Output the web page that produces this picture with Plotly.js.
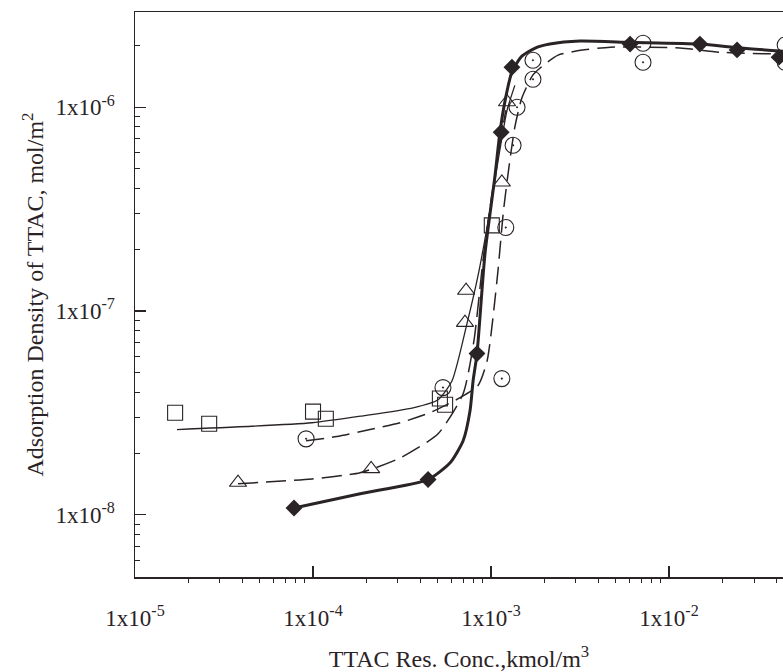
<!DOCTYPE html>
<html>
<head>
<meta charset="utf-8">
<script src="https://cdn.plot.ly/plotly-3.0.1.min.js"></script>
<style>html,body{margin:0;padding:0;background:#fff;overflow:hidden}#chart{width:783px;height:672px}</style>
</head>
<body>
<div id="chart"></div>
<script>
// ---- data ----
// open squares
var squareX = [1.68e-5, 2.61e-5, 1.0e-4, 1.18e-4, 5.16e-4, 5.52e-4, 1.01e-3];
var squareY = [3.17e-8, 2.80e-8, 3.21e-8, 2.96e-8, 3.72e-8, 3.47e-8, 2.63e-7];
// open circles (with dot)
var circleX = [9.14e-5, 5.37e-4, 1.15e-3, 1.21e-3, 1.33e-3, 1.40e-3, 1.72e-3, 1.72e-3, 7.14e-3, 7.14e-3, 4.49e-2, 4.49e-2];
var circleY = [2.36e-8, 4.21e-8, 4.66e-8, 2.57e-7, 6.50e-7, 1.00e-6, 1.37e-6, 1.70e-6, 2.06e-6, 1.66e-6, 2.02e-6, 1.66e-6];
// open triangles
var triX = [3.79e-5, 2.12e-4, 7.14e-4, 7.24e-4, 1.15e-3, 1.23e-3];
var triY = [1.44e-8, 1.68e-8, 8.77e-8, 1.26e-7, 4.28e-7, 1.06e-6];
// filled diamonds
var diaX = [7.82e-5, 4.43e-4, 8.34e-4, 1.14e-3, 1.31e-3, 6.04e-3, 1.49e-2, 2.41e-2, 4.15e-2];
var diaY = [1.08e-8, 1.49e-8, 6.18e-8, 7.53e-7, 1.57e-6, 2.04e-6, 2.04e-6, 1.91e-6, 1.76e-6];

// fitted curves
var thickX = [7.82e-5, 1.84e-4, 4.43e-4, 5.89e-4, 6.97e-4, 7.62e-4, 7.93e-4, 8.34e-4, 9.25e-4, 1.05e-3, 1.12e-3, 1.20e-3, 1.31e-3, 1.49e-3, 1.77e-3, 2.14e-3, 3.16e-3, 6.04e-3, 1.49e-2, 2.51e-2, 4.49e-2];
var thickY = [1.08e-8, 1.27e-8, 1.49e-8, 1.80e-8, 2.31e-8, 3.24e-8, 4.55e-8, 6.18e-8, 1.92e-7, 4.53e-7, 7.45e-7, 1.08e-6, 1.49e-6, 1.78e-6, 1.95e-6, 2.04e-6, 2.11e-6, 2.08e-6, 2.04e-6, 1.95e-6, 1.88e-6];

var thinX = [1.72e-5, 9.87e-5, 1.91e-4, 3.65e-4, 5.04e-4, 6.04e-4, 7.33e-4, 8.45e-4, 9.87e-4, 1.12e-3, 1.23e-3, 1.36e-3];
var thinY = [2.62e-8, 2.83e-8, 3.06e-8, 3.35e-8, 3.67e-8, 4.55e-8, 8.69e-8, 1.49e-7, 3.12e-7, 6.15e-7, 9.66e-7, 1.28e-6];

var triLineX = [3.79e-5, 9.87e-5, 1.84e-4, 3.08e-4, 5.04e-4, 6.97e-4, 8.02e-4, 9.01e-4, 1.01e-3, 1.12e-3, 1.21e-3];
var triLineY = [1.42e-8, 1.50e-8, 1.61e-8, 1.90e-8, 2.50e-8, 3.93e-8, 7.16e-8, 1.77e-7, 3.70e-7, 6.50e-7, 9.66e-7];

var cirLineX = [9.14e-5, 1.36e-4, 2.09e-4, 3.08e-4, 4.54e-4, 6.70e-4, 8.45e-4, 9.51e-4, 1.09e-3, 1.17e-3, 1.26e-3, 1.36e-3, 1.49e-3, 1.72e-3, 2.01e-3, 2.38e-3, 2.96e-3, 4.67e-3, 1.15e-2, 1.94e-2, 4.49e-2];
var cirLineY = [2.31e-8, 2.42e-8, 2.62e-8, 2.83e-8, 3.17e-8, 3.76e-8, 4.31e-8, 5.71e-8, 1.53e-7, 3.01e-7, 5.07e-7, 7.98e-7, 1.11e-6, 1.44e-6, 1.63e-6, 1.80e-6, 1.88e-6, 1.97e-6, 1.95e-6, 1.86e-6, 1.82e-6];

var xTickVals = [1e-5, 1e-4, 1e-3, 1e-2];
var xTickText = ['1x10<sup>-5</sup>', '1x10<sup>-4</sup>', '1x10<sup>-3</sup>', '1x10<sup>-2</sup>'];
var yTickVals = [1e-8, 1e-7, 1e-6];
var yTickText = ['1x10<sup>-8</sup>', '1x10<sup>-7</sup>', '1x10<sup>-6</sup>'];

// ---- styling ----
var ink = '#2a2326';
var FONT = '"Liberation Serif", "DejaVu Serif", serif';

function minorVals(lo, hi) {
  var v = [];
  for (var e = lo; e <= hi; e++) {
    for (var m = 2; m <= 9; m++) v.push(m * Math.pow(10, e));
  }
  return v;
}

var traces = [
  {x: thinX, y: thinY, mode: 'lines', line: {color: ink, width: 1.3, shape: 'spline', smoothing: 0.6}, hoverinfo: 'skip'},
  {x: triLineX, y: triLineY, mode: 'lines', line: {color: ink, width: 1.5, dash: '20px,8px', shape: 'spline', smoothing: 0.6}, hoverinfo: 'skip'},
  {x: cirLineX, y: cirLineY, mode: 'lines', line: {color: ink, width: 1.5, dash: '18px,8px', shape: 'spline', smoothing: 0.6}, hoverinfo: 'skip'},
  {x: thickX, y: thickY, mode: 'lines', line: {color: ink, width: 3, shape: 'spline', smoothing: 0.6}, hoverinfo: 'skip'},
  {x: squareX, y: squareY, mode: 'markers', marker: {symbol: 'square-open', size: 15, color: ink, line: {width: 1.1, color: ink}}},
  {x: circleX, y: circleY, mode: 'markers', marker: {symbol: 'circle-open-dot', size: 16, color: ink, line: {width: 1.1, color: ink}}},
  {x: triX, y: triY, mode: 'markers', marker: {symbol: 'triangle-up-open', size: 15, color: ink, line: {width: 1.1, color: ink}}},
  {x: diaX, y: diaY, mode: 'markers', marker: {symbol: 'diamond', size: 13, color: ink, line: {width: 0}}}
];

var layout = {
  width: 783, height: 672,
  margin: {l: 135, r: 0, t: 12, b: 95},
  paper_bgcolor: '#ffffff', plot_bgcolor: '#ffffff',
  showlegend: false,
  font: {family: FONT, color: ink, size: 18},
  xaxis: {
    type: 'log', range: [-5, -1.36], autorange: false,
    showgrid: false, zeroline: false,
    showline: true, linecolor: ink, linewidth: 1.5, mirror: true,
    ticks: 'inside', ticklen: 11, tickwidth: 1.2, tickcolor: ink,
    tickmode: 'array', tickvals: xTickVals, ticktext: xTickText,
    ticklabelstandoff: 20,
    tickfont: {family: FONT, size: 23, color: ink},
    minor: {tickmode: 'array', tickvals: minorVals(-5, -2), ticks: 'outside', ticklen: 4, tickwidth: 1, tickcolor: ink, showgrid: false},
    title: {text: 'TTAC Res. Conc.,kmol/m<sup>3</sup>', font: {family: FONT, size: 24, color: ink}, standoff: 20}
  },
  yaxis: {
    type: 'log', range: [-8.305, -5.533], autorange: false,
    showgrid: false, zeroline: false,
    showline: true, linecolor: ink, linewidth: 1.5, mirror: false,
    ticks: 'inside', ticklen: 11, tickwidth: 1.2, tickcolor: ink,
    tickmode: 'array', tickvals: yTickVals, ticktext: yTickText,
    ticklabelstandoff: 14,
    tickfont: {family: FONT, size: 23, color: ink},
    minor: {tickmode: 'array', tickvals: minorVals(-9, -6), ticks: 'inside', ticklen: 5, tickwidth: 1, tickcolor: ink, showgrid: false},
    title: {text: 'Adsorption Density of TTAC, mol/m<sup>2</sup>', font: {family: FONT, size: 24, color: ink}, standoff: 5}
  }
};

Plotly.newPlot('chart', traces, layout, {displayModeBar: false, staticPlot: true});
</script>
</body>
</html>
